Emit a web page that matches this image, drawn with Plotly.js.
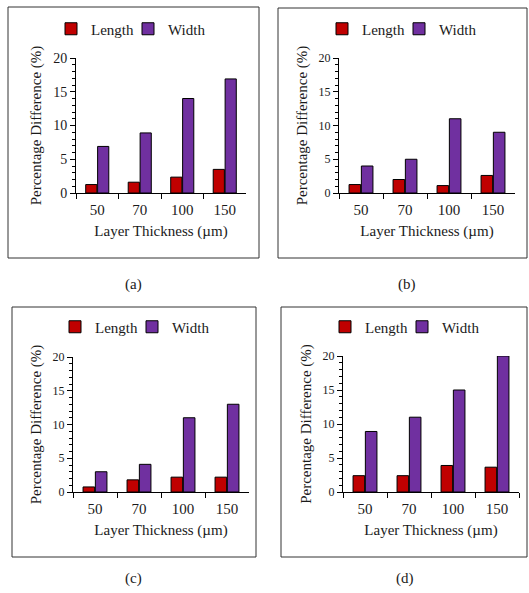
<!DOCTYPE html>
<html>
<head>
<meta charset="utf-8">
<script src="https://cdn.plot.ly/plotly-3.0.1.min.js"></script>
<style>html,body{margin:0;padding:0;background:#fff;}#chart{width:529px;height:593px;}</style>
</head>
<body>
<div id="chart"></div>
<script>
// Data
const categories = ['50', '70', '100', '150'];
const lengthA = [1.25, 1.6, 2.35, 3.5];
const widthA  = [6.9, 8.9, 14.0, 16.9];
const lengthB = [1.25, 2.0, 1.1, 2.6];
const widthB  = [4.0, 5.0, 11.0, 9.0];
const lengthC = [0.75, 1.8, 2.2, 2.2];
const widthC  = [3.0, 4.1, 11.0, 13.0];
const lengthD = [2.4, 2.4, 3.9, 3.65];
const widthD  = [8.9, 11.0, 15.0, 20.0];
const seriesNames = ['Length', 'Width'];
const captions = ['(a)', '(b)', '(c)', '(d)'];

const W = 529, H = 593;
const px = v => v / W;
const py = v => 1 - v / H;
const FONT = 'Liberation Serif';
const RED = '#C00000', PURPLE = '#7030A0';
const TXT = '#1a1a1a';

// panel geometry (pixels)
const panels = [
  {len: lengthA, wid: widthA, x0: 76,  x1: 246, yt: 58,  yb: 193, fx0: 8,   fx1: 259, fy0: 7,   fy1: 258, lc: 136, ly: 29,  cx: 133, cy: 284, ytick: 14},
  {len: lengthB, wid: widthB, x0: 339, x1: 515, yt: 58,  yb: 193, fx0: 278, fx1: 527, fy0: 8,   fy1: 258, lc: 407, ly: 29,  cx: 407, cy: 284, ytick: 12},
  {len: lengthC, wid: widthC, x0: 73,  x1: 249, yt: 357, yb: 492, fx0: 12,  fx1: 256, fy0: 307, fy1: 557, lc: 140, ly: 327, cx: 133, cy: 578, ytick: 12},
  {len: lengthD, wid: widthD, x0: 343, x1: 519, yt: 356, yb: 492, fx0: 281, fx1: 527, fy0: 307, fy1: 557, lc: 410, ly: 327, cx: 405, cy: 578, ytick: 12}
];

const data = [];
const layout = {
  width: W, height: H,
  margin: {l: 0, r: 0, t: 0, b: 0},
  paper_bgcolor: '#fff', plot_bgcolor: '#fff',
  font: {family: FONT, color: TXT},
  showlegend: true,
  barmode: 'group',
  bargap: 0.44,
  bargroupgap: 0.06,
  shapes: [],
  annotations: []
};

panels.forEach((p, i) => {
  const n = i === 0 ? '' : String(i + 1);
  const left = p.lc - 71;
  const itemX = [left + 6 - 20, left + 83 - 20];
  [p.len, p.wid].forEach((vals, k) => {
    const li = i * 2 + k;
    const legKey = li === 0 ? 'legend' : 'legend' + (li + 1);
    data.push({
      type: 'bar',
      x: categories,
      y: vals,
      name: seriesNames[k],
      xaxis: 'x' + n,
      yaxis: 'y' + n,
      legend: legKey,
      showlegend: true,
      marker: {color: k === 0 ? RED : PURPLE, line: {color: '#000', width: 1}},
      hoverinfo: 'x+y+name'
    });
    layout[legKey] = {
      orientation: 'h',
      x: px(itemX[k]), y: py(p.ly),
      xanchor: 'left', yanchor: 'middle',
      bgcolor: 'rgba(0,0,0,0)',
      font: {family: FONT, size: 15, color: TXT},
      itemwidth: 30
    };
  });
  layout['xaxis' + n] = {
    domain: [px(p.x0), px(p.x1)],
    anchor: 'y' + n,
    type: 'category',
    showline: true, linecolor: '#000', linewidth: 1,
    ticks: 'outside', ticklen: 5, tickcolor: '#000', tickson: 'boundaries',
    ticklabelstandoff: 3,
    showgrid: false, zeroline: false,
    tickfont: {family: FONT, size: 15, color: TXT},
    title: {text: 'Layer Thickness (µm)', font: {family: FONT, size: 15, color: TXT}, standoff: 8},
    fixedrange: true
  };
  layout['yaxis' + n] = {
    domain: [py(p.yb), py(p.yt)],
    anchor: 'x' + n,
    range: [0, 20],
    tickvals: [0, 5, 10, 15, 20],
    showline: true, linecolor: '#000', linewidth: 1,
    ticks: 'outside', ticklen: 5, tickcolor: '#000',
    minor: {dtick: 1, ticks: 'outside', ticklen: 3, tickcolor: '#000'},
    showgrid: false, zeroline: false,
    tickfont: {family: FONT, size: p.ytick, color: TXT},
    title: {text: 'Percentage Difference (%)', font: {family: FONT, size: 15, color: TXT}, standoff: 7},
    fixedrange: true
  };
  layout.shapes.push({
    type: 'rect', xref: 'paper', yref: 'paper',
    x0: px(p.fx0), x1: px(p.fx1), y0: py(p.fy1), y1: py(p.fy0),
    line: {color: '#333', width: 1}, fillcolor: 'rgba(0,0,0,0)', layer: 'below'
  });
  layout.annotations.push({
    xref: 'paper', yref: 'paper', x: px(p.cx), y: py(p.cy),
    xanchor: 'center', yanchor: 'middle', showarrow: false,
    text: captions[i], font: {family: FONT, size: 15, color: TXT}
  });
});

Plotly.newPlot('chart', data, layout, {displayModeBar: false});
</script>
</body>
</html>
